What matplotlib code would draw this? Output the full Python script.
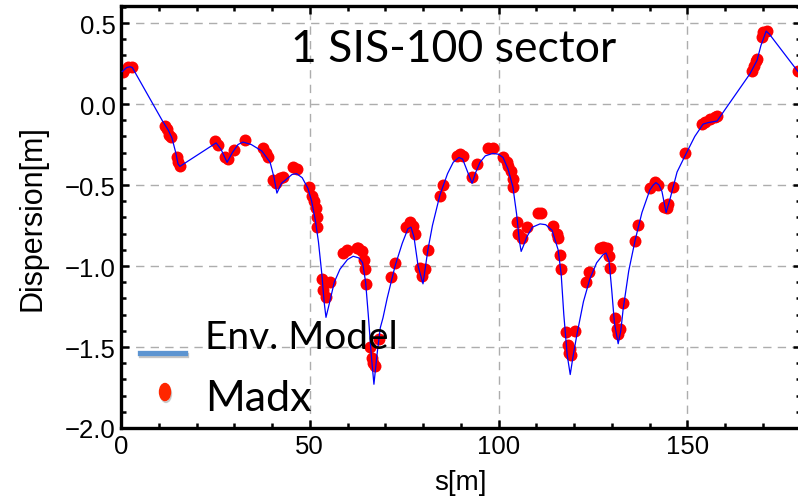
import numpy as np
import matplotlib
matplotlib.use('Agg')
import matplotlib.pyplot as plt
from matplotlib.lines import Line2D
from matplotlib.patches import Ellipse
from matplotlib.ticker import MultipleLocator

# 01 Data
ModelS = [0.3, 1.5, 2.4, 3.0, 11.0, 12.5, 13.5, 14.5, 15.1, 15.6, 25.2, 26.5, 28.1, 29.5, 31.0,
          32.3, 34.5, 37.3, 39.5, 40.5, 41.3, 42.5, 45.3, 46.5, 48.0, 49.5, 50.5, 51.5, 52.3,
          53.2, 53.8, 54.3, 55.0, 56.5, 58.0, 60.0, 61.5, 63.0, 64.0, 64.8, 65.5, 66.3, 67.0,
          67.8, 68.7, 69.4, 70.5, 72.6, 74.5, 76.0, 76.8, 77.6, 78.7, 80.0, 81.3, 82.5, 84.5,
          86.5, 88.0, 89.5, 90.5, 91.5, 93.0, 94.0, 95.1, 96.5, 98.5, 100.0, 101.2, 102.5,
          103.8, 104.8, 105.5, 106.0, 106.7, 107.5, 109.0, 111.0, 112.5, 114.2, 115.8, 116.6,
          117.3, 118.2, 119.0, 119.8, 120.8, 122.5, 124.2, 126.0, 127.7, 128.5, 129.3, 130.0,
          130.7, 131.7, 132.4, 133.0, 134.5, 136.2, 138.0, 140.1, 141.0, 141.7, 142.5, 143.3,
          144.4, 145.4, 147.3, 149.4, 152.0, 154.2, 155.5, 157.9, 166.6, 168.5, 169.5, 170.9,
          171.8, 179.5]
ModelD = [0.20, 0.225, 0.23, 0.225, -0.105, -0.16, -0.21, -0.30, -0.37, -0.385, -0.24, -0.28,
          -0.36, -0.30, -0.25, -0.235, -0.25, -0.29, -0.36, -0.45, -0.55, -0.49, -0.435, -0.43,
          -0.455, -0.52, -0.60, -0.72, -0.85, -1.05, -1.22, -1.317, -1.25, -1.10, -1.02, -0.96,
          -0.94, -0.95, -0.98, -1.10, -1.30, -1.55, -1.73, -1.55, -1.38, -1.32, -1.20, -1.00,
          -0.86, -0.77, -0.76, -0.82, -1.00, -1.11, -0.90, -0.75, -0.56, -0.43, -0.36, -0.33,
          -0.34, -0.40, -0.49, -0.42, -0.36, -0.32, -0.305, -0.31, -0.33, -0.40, -0.51, -0.68,
          -0.84, -0.91, -0.87, -0.82, -0.76, -0.74, -0.745, -0.78, -0.90, -1.05, -1.30, -1.55,
          -1.67, -1.55, -1.42, -1.22, -1.08, -0.98, -0.93, -0.92, -0.97, -1.15, -1.35, -1.48,
          -1.40, -1.27, -1.03, -0.84, -0.67, -0.53, -0.50, -0.485, -0.50, -0.54, -0.67, -0.59,
          -0.42, -0.32, -0.20, -0.124, -0.115, -0.105, 0.186, 0.27, 0.36, 0.45, 0.43, 0.195]

MadxS = [0.5, 1.9, 2.9, 11.7, 12.2, 12.7, 13.2, 14.8, 15.1, 15.6, 24.9, 25.7, 27.5, 28.3, 29.9,
         32.8, 37.6, 38.4, 38.9, 40.3, 41.0, 42.1, 42.9, 45.6, 46.6, 49.8, 50.6, 51.1, 51.7,
         51.9, 52.0, 53.2, 53.5, 54.3, 55.4, 58.8, 59.9, 62.5, 62.8, 63.8, 64.4, 64.6, 64.9,
         66.0, 66.5, 66.8, 67.3, 68.3, 71.5, 72.6, 75.5, 76.6, 77.4, 77.9, 79.2, 79.7, 80.5,
         81.3, 84.5, 85.3, 89.0, 89.8, 90.6, 93.0, 94.3, 97.2, 98.5, 101.2, 102.3, 102.5,
         103.3, 103.8, 103.8, 104.9, 105.2, 106.2, 107.5, 110.5, 111.3, 114.4, 115.5, 115.8,
         116.3, 116.6, 117.9, 120.3, 118.4, 118.7, 119.2, 119.0, 123.2, 124.0, 126.9, 127.7,
         128.7, 129.3, 129.5, 130.9, 131.4, 131.7, 132.2, 133.0, 136.2, 137.0, 140.1, 141.5,
         142.3, 143.8, 144.6, 144.9, 146.2, 149.4, 153.9, 154.7, 156.0, 157.4, 157.9, 167.2,
         167.7, 168.2, 168.5, 169.8, 170.1, 171.1, 179.3]
MadxD = [0.20, 0.23, 0.23, -0.135, -0.155, -0.19, -0.205, -0.33, -0.36, -0.38, -0.23, -0.25,
         -0.33, -0.34, -0.285, -0.22, -0.27, -0.30, -0.33, -0.47, -0.485, -0.455, -0.45, -0.39,
         -0.40, -0.51, -0.57, -0.60, -0.64, -0.70, -0.76, -1.08, -1.15, -1.19, -1.10, -0.92,
         -0.90, -0.89, -0.89, -0.91, -0.96, -1.02, -1.11, -1.50, -1.57, -1.60, -1.62, -1.45,
         -1.07, -0.98, -0.76, -0.73, -0.75, -0.80, -1.01, -1.06, -1.02, -0.90, -0.57, -0.50,
         -0.32, -0.31, -0.32, -0.45, -0.37, -0.27, -0.27, -0.33, -0.36, -0.385, -0.415, -0.465,
         -0.515, -0.73, -0.80, -0.83, -0.76, -0.67, -0.67, -0.75, -0.80, -0.83, -0.93, -1.02,
         -1.41, -1.40, -1.49, -1.54, -1.55, -1.51, -1.10, -1.04, -0.89, -0.88, -0.89, -0.94,
         -1.01, -1.32, -1.39, -1.42, -1.39, -1.23, -0.845, -0.745, -0.52, -0.48, -0.50, -0.635,
         -0.64, -0.62, -0.51, -0.305, -0.124, -0.112, -0.093, -0.08, -0.075, 0.205, 0.236,
         0.267, 0.28, 0.416, 0.447, 0.453, 0.205]

XTicks = [0, 50, 100, 150]
YTicks = [-2.0, -1.5, -1.0, -0.5, 0.0, 0.5]
YTickLabels = ['\u22122.0', '\u22121.5', '\u22121.0', '\u22120.5', '0.0', '0.5']


# 02 Plot
plt.rcParams['font.family'] = ['Liberation Sans', 'DejaVu Sans']
Figure = plt.figure(figsize=(7.98, 5.02), dpi=100)
Axes = Figure.add_axes([121/798, 1-429/502, 679.5/798, 422/502])

Axes.plot(ModelS, ModelD, color=(0, 0, 1), linewidth=0.9, zorder=3)
Axes.plot(MadxS, MadxD, linestyle='none', marker='o', markersize=8.6,
          markeredgewidth=0, color=(1, 0, 0), zorder=2)

Axes.set_xlim([0, 180])
Axes.set_ylim([-2.0, 0.605])
Axes.set_xticks(XTicks)
Axes.set_xticklabels([str(t) for t in XTicks])
Axes.set_yticks(YTicks)
Axes.set_yticklabels(YTickLabels)
Axes.xaxis.set_minor_locator(MultipleLocator(10))
Axes.yaxis.set_minor_locator(MultipleLocator(0.1))
Axes.tick_params(which='both', direction='in', top=True, right=True, labelsize=18.5, width=1.8, pad=4)
Axes.tick_params(which='major', length=6)
Axes.tick_params(which='minor', length=3.5)
Axes.grid(True, which='major', linestyle=(0, (6, 4.5)), color=(0.68, 0.68, 0.68), linewidth=1.0)
for Spine in Axes.spines.values():
    Spine.set_linewidth(2.4)

Axes.set_xlabel('s[m]', fontsize=20, labelpad=8)
Axes.set_ylabel('Dispersion[m]', fontsize=22, labelpad=12)

# Annotation and legend in the figure itself
Figure.text(454/798, 1-49/502, '1 SIS-100 sector', family='Lato', fontsize=32,
            ha='center', va='center')

Figure.add_artist(Line2D([141/798, 186/798], [1-356/502, 1-356/502], color=(0.55, 0.55, 0.55),
                         alpha=0.5, linewidth=3.8, transform=Figure.transFigure))
Figure.add_artist(Line2D([140/798, 185/798], [1-354/502, 1-354/502], color=(0.36, 0.58, 0.82),
                         linewidth=3.8, transform=Figure.transFigure))
Figure.add_artist(Ellipse((166/798, 1-395/502), 11/798, 17/502, color=(0.6, 0.6, 0.6),
                          alpha=0.4, transform=Figure.transFigure))
Figure.add_artist(Ellipse((165/798, 1-393/502), 11/798, 17/502, color=(1, 0.15, 0.0),
                          transform=Figure.transFigure))
Figure.text(205/798, 1-349/502, 'Env. Model', family='Lato', fontsize=28, ha='left', va='baseline')
Figure.text(205/798, 1-411/502, 'Madx', family='Lato', fontsize=31, ha='left', va='baseline')

plt.savefig('out.png', dpi=100)
plt.close(Figure)
